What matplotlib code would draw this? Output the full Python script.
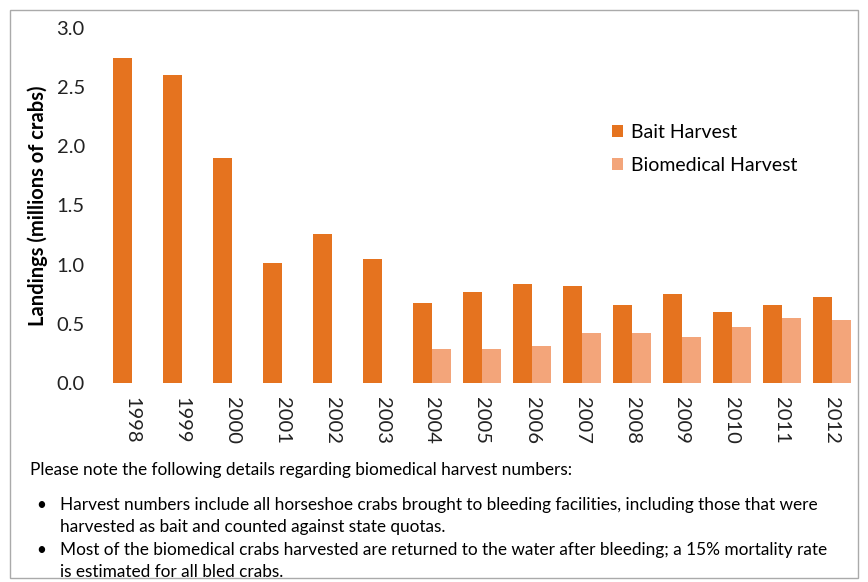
import matplotlib
matplotlib.use("Agg")
import matplotlib.pyplot as plt
from matplotlib.patches import Rectangle
import numpy as np

years = ["1998", "1999", "2000", "2001", "2002", "2003", "2004", "2005",
         "2006", "2007", "2008", "2009", "2010", "2011", "2012"]
bait = [2.75, 2.60, 1.90, 1.01, 1.26, 1.05, 0.68, 0.77, 0.84, 0.82, 0.66, 0.75, 0.60, 0.66, 0.73]
biomedical = [0, 0, 0, 0, 0, 0, 0.29, 0.29, 0.31, 0.42, 0.42, 0.39, 0.47, 0.55, 0.53]
yticks = [0.0, 0.5, 1.0, 1.5, 2.0, 2.5, 3.0]

plt.rcParams['font.family'] = ['Lato', 'DejaVu Sans']

W, H = 868, 582
fig = plt.figure(figsize=(W / 100, H / 100), dpi=100)
ax = fig.add_axes([107 / W, 1 - 383 / H, 750 / W, 355 / H])

x = np.arange(len(years))
bw = 0.38
ax.bar(x - bw / 2, bait, width=bw, color="#E5731F", label="Bait Harvest")
ax.bar(x + bw / 2, biomedical, width=bw, color="#F3A57A", label="Biomedical Harvest")

ax.set_xlim(-0.5, len(years) - 0.5)
ax.set_ylim(0, 3.0)
ax.set_yticks(yticks)
ax.set_yticklabels([f"{v:.1f}" for v in yticks], fontsize=14.5)
ax.set_xticks(x)
ax.set_xticklabels(years, rotation=270, fontsize=14.5, va="top", ha="center")
ax.tick_params(axis="both", length=0, colors="#222222")
ax.tick_params(axis="y", pad=16)
ax.tick_params(axis="x", pad=10)
for s in ax.spines.values():
    s.set_visible(False)
ax.set_ylabel("Landings (millions of crabs)", fontsize=14.5, fontweight="bold", labelpad=6)

leg = ax.legend(loc="upper left", bbox_to_anchor=(0.65, 0.78), frameon=False,
                fontsize=14, handlelength=0.55, handleheight=0.55, handletextpad=0.45,
                labelspacing=0.85)

# frame around the whole chart
fig.patches.append(Rectangle((10 / W, 1 - 578 / H), 848 / W, 568 / H, transform=fig.transFigure,
                             fill=False, edgecolor="#aaaaaa", linewidth=1))

fs = 12.4
fig.text(30 / W, 1 - 470 / H, "Please note the following details regarding biomedical harvest numbers:",
         fontsize=fs, va="center", ha="left")
fig.text(36 / W, 1 - 505 / H, "\u2022", fontsize=fs, va="center", ha="left")
fig.text(60 / W, 1 - 505 / H,
         "Harvest numbers include all horseshoe crabs brought to bleeding facilities, including those that were",
         fontsize=fs, va="center", ha="left")
fig.text(60 / W, 1 - 527 / H, "harvested as bait and counted against state quotas.",
         fontsize=fs, va="center", ha="left")
fig.text(36 / W, 1 - 550 / H, "\u2022", fontsize=fs, va="center", ha="left")
fig.text(60 / W, 1 - 550 / H,
         "Most of the biomedical crabs harvested are returned to the water after bleeding; a 15% mortality rate",
         fontsize=fs, va="center", ha="left")
fig.text(60 / W, 1 - 572 / H, "is estimated for all bled crabs.",
         fontsize=fs, va="center", ha="left")

fig.savefig("out.png", dpi=100)
